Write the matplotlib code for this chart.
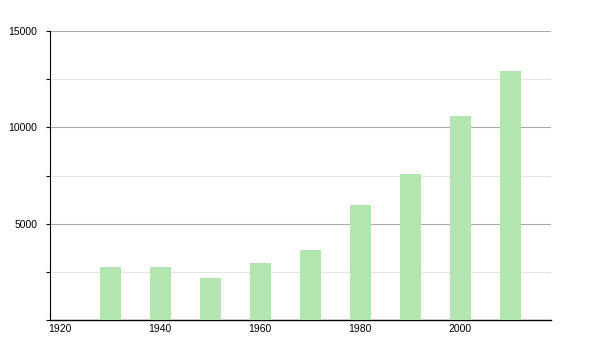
import matplotlib
matplotlib.use('Agg')
import matplotlib.pyplot as plt
from matplotlib.ticker import MultipleLocator

years = [1930, 1940, 1950, 1960, 1970, 1980, 1990, 2000, 2010]
values = [2767, 2770, 2180, 2975, 3633, 5969, 7578, 10588, 12924]
xticks = [1920, 1940, 1960, 1980, 2000]

plt.rcParams['font.family'] = ['Liberation Sans', 'DejaVu Sans']

fig = plt.figure(figsize=(6, 3.5), dpi=100)
ax = fig.add_axes([50 / 600, 30 / 350, 501 / 600, 289 / 350])

ax.bar(years, values, width=4.2, color='#b3e5b0', zorder=3)

ax.set_xlim(1918, 2018.2)
ax.set_ylim(0, 15000)
ax.set_xticks(xticks)
ax.set_xticklabels([str(y) for y in xticks])
ax.yaxis.set_major_locator(MultipleLocator(5000))
ax.yaxis.set_minor_locator(MultipleLocator(2500))
ax.set_yticklabels(['' if v == 0 else str(int(v)) for v in ax.get_yticks()])

ax.grid(axis='y', which='major', color='#aaaaaa', linewidth=0.8, zorder=0)
ax.grid(axis='y', which='minor', color='#e4e4e4', linewidth=0.8, zorder=0)

for s in ['top', 'right']:
    ax.spines[s].set_visible(False)
ax.spines['left'].set_color('black')
ax.spines['bottom'].set_color('black')
ax.spines['bottom'].set_linewidth(1.0)

ax.tick_params(axis='x', length=0, pad=3, labelsize=7.5)
ax.tick_params(axis='y', which='both', length=3, width=0.8, pad=6, labelsize=7.5)

fig.savefig('out.png', dpi=100)
